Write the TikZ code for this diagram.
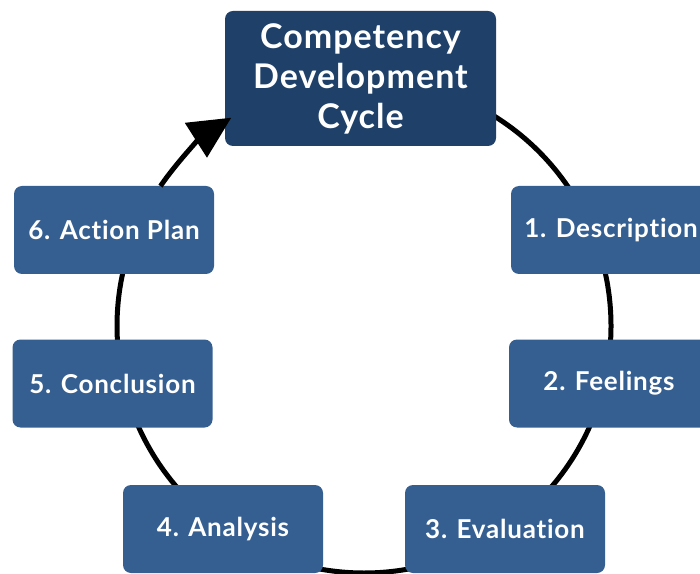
\documentclass[tikz,border=0pt]{standalone}
\usepackage{fontspec}
\setmainfont{Lato}[Ligatures=NoCommon, LetterSpace=3]
\usetikzlibrary{arrows.meta,backgrounds}
\definecolor{topblue}{HTML}{1F4169}
\definecolor{boxblue}{HTML}{365F91}
\tikzset{
  stepbox/.style={draw=none, fill=boxblue, rounded corners=8pt, minimum width=200pt, minimum height=88pt,
    text=white, font=\fontsize{26}{30}\selectfont\bfseries, inner sep=0pt},
  titlebox/.style={fill=topblue, rounded corners=8pt, minimum width=271pt, minimum height=135pt,
    text=white, font=\fontsize{34}{40}\selectfont\bfseries, align=center, inner sep=0pt},
  ring/.style={line width=5pt, black},
}
\begin{document}
\begin{tikzpicture}[x=1pt,y=1pt]
\useasboundingbox (0,0) rectangle (700,573);
\coordinate (O) at (364,247);
\node[titlebox] (top) at (360.5,494.5) {Competency\\Development\\Cycle};
\node[stepbox] (n1) at (611,343) {1. Description};
\node[stepbox] (n2) at (609,189.5) {2. Feelings};
\node[stepbox] (n3) at (505,44) {3. Evaluation};
\node[stepbox] (n4) at (223,44) {4. Analysis};
\node[stepbox] (n5) at (112.5,189.5) {5. Conclusion};
\node[stepbox] (n6) at (114,343) {6. Action Plan};
\begin{scope}[on background layer]
\draw[ring] ([shift={(90:247)}]O) arc[start angle=90, end angle=-201, radius=247];
\end{scope}
\draw[ring, -{Triangle[length=42pt,width=40pt]}] ([shift={(145.5:247)}]O) arc[start angle=145.5, end angle=122.5, radius=247];
\end{tikzpicture}
\end{document}
